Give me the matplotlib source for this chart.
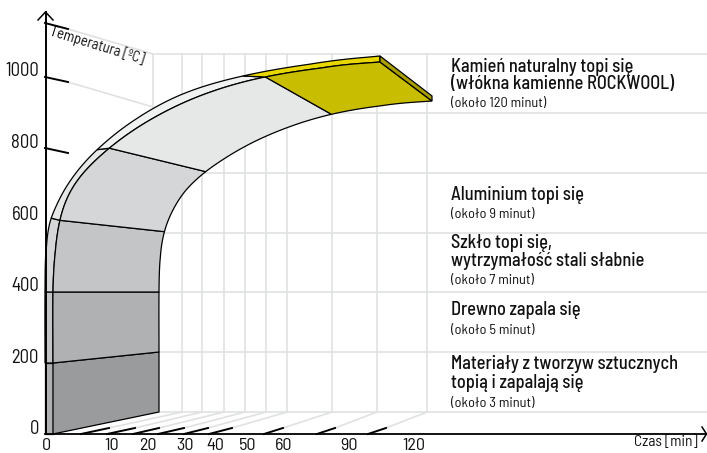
import numpy as np
import matplotlib
matplotlib.use("Agg")
import matplotlib.pyplot as plt
from matplotlib.patches import Polygon

plt.rcParams['font.family'] = ['Barlow Semi Condensed', 'Lato', 'DejaVu Sans']

# picture is read in pixels, the drawing is a perspective sketch
y_ticks = [0, 200, 400, 600, 800, 1000]
y_tick_px = [434, 363, 291.5, 220, 148, 77]
y_label_px = [429, 358, 286, 215, 143, 71]
x_labels = ['0', '10', '20', '30', '40', '50', '60', '90', '120']
x_label_px = [46, 112, 148, 185, 215, 248, 284, 349, 414]

tick_start = [81, 107, 133, 158, 184, 209, 264, 317, 368]
tick_end = [109, 135, 159, 184, 208, 232, 283, 335, 386]
foot_px = [182, 202, 224, 245, 266, 287, 332, 377, 427]
grid_y = [54, 113, 173, 233, 292, 352, 412]

outer = [(45, 434), (45, 363), (45, 292), (46, 238), (50, 220), (60, 197), (73, 175),
         (97, 148), (123, 128), (153, 107), (190, 90), (237, 76), (310, 63), (380, 56)]
inner = [(53, 434), (53, 363), (53, 292), (55, 250), (59, 220), (68, 193), (83, 172),
         (108, 148), (140, 125), (173, 107), (217, 88), (263, 77), (320, 67), (380, 62)]
back = [(159, 412), (159, 352), (159, 292), (160, 255), (163, 233), (173, 207), (187, 188),
        (203, 173), (233, 152), (280, 128), (333, 113), (380, 105), (432, 101)]
front_breaks = [0, 1, 2, 4, 7, 11, 13]
back_breaks = [0, 1, 2, 4, 7, 10, 12]

band_colors = ['#9a9b9c', '#b0b1b2', '#c4c5c6', '#d5d6d7', '#e6e7e7', '#c9bd00']
strip_colors = ['#b0b1b2', '#c4c5c6', '#d5d6d7', '#e6e7e7', '#f0f1f1', '#e8d800']

labels = [
    (['Kamień naturalny topi się', '(włókna kamienne ROCKWOOL)'], '(około 120 minut)', [72, 89], 107),
    (['Aluminium topi się'], '(około 9 minut)', [200], 218),
    (['Szkło topi się,', 'wytrzymałość stali słabnie'], '(około 7 minut)', [248, 266], 284),
    (['Drewno zapala się'], '(około 5 minut)', [315], 334),
    (['Materiały z tworzyw sztucznych', 'topią i zapalają się'], '(około 3 minut)', [369, 388], 407),
]

GRID = '#e0e1e1'
N = 10


def smooth(pts):
    # catmull-rom through the read points, N steps per span, then a running mean on the bent part
    p = np.array(pts, dtype=float)
    p = np.vstack([2 * p[0] - p[1], p, 2 * p[-1] - p[-2]])
    res = []
    for i in range(1, len(p) - 2):
        for t in np.linspace(0, 1, N, endpoint=False):
            res.append(0.5 * (2 * p[i] + (p[i + 1] - p[i - 1]) * t
                              + (2 * p[i - 1] - 5 * p[i] + 4 * p[i + 1] - p[i + 2]) * t ** 2
                              + (3 * p[i] - p[i - 1] - 3 * p[i + 1] + p[i + 2]) * t ** 3))
    res.append(p[-2])
    res = np.array(res)
    out = res.copy()
    for j in range(2 * N + 1, len(res) - 1):
        h = min(N, j - 2 * N, len(res) - 1 - j)
        out[j] = res[j - h:j + h + 1].mean(axis=0)
    return out


def part(curve, breaks, k):
    return curve[breaks[k] * N:breaks[k + 1] * N + 1]


fig = plt.figure(figsize=(7.07, 4.53), dpi=100)
ax = fig.add_axes([0, 0, 1, 1])
ax.set_xlim(0, 707)
ax.set_ylim(453, 0)
ax.axis('off')

# grid behind the surface
for y in grid_y:
    ax.plot([153, 707], [y, y], color=GRID, lw=1.2, zorder=1)
for x in foot_px:
    ax.plot([x, x], [54, 412], color=GRID, lw=1.2, zorder=1)
ax.plot([153, 153], [54, 107], color=GRID, lw=1.2, zorder=1)
ax.plot([68, 153], [29, 54], color=GRID, lw=1.2, zorder=1)
ax.plot([68, 153], [82, 107], color=GRID, lw=1.2, zorder=1)
for x0, x1 in zip(tick_end, foot_px):
    ax.plot([x0, x1], [428, 412], color=GRID, lw=1.2, zorder=1)

# surface
o = smooth(outer)
i_c = smooth(inner)
b = smooth(back)
for k in range(6):
    fo = part(o, front_breaks, k)
    fi = part(i_c, front_breaks, k)
    ba = part(b, back_breaks, k)
    ax.add_patch(Polygon(np.vstack([fo, fi[::-1]]), closed=True, fc=strip_colors[k], ec='black', lw=0.9, zorder=3))
    ax.add_patch(Polygon(np.vstack([fi, ba[::-1]]), closed=True, fc=band_colors[k], ec='black', lw=0.9, zorder=3))
ax.add_patch(Polygon([outer[-1], (432, 96), back[-1], inner[-1]], closed=True, fc='#a89e00', ec='black', lw=0.9, zorder=3))

# axes
ax.plot([45.5, 45.5], [12, 434], color='black', lw=1.4, zorder=5)
ax.plot([45, 707], [434, 434], color='black', lw=1.3, zorder=5)
ax.plot([38, 45.5, 53], [20, 12, 20], color='black', lw=1.1, zorder=5)
ax.plot([702, 706.5, 702], [427, 434, 441], color='black', lw=1.1, zorder=5)
ax.plot([45, 68], [23, 29], color='black', lw=1.4, zorder=5)
for y in y_tick_px[4:]:
    ax.plot([45, 68], [y, y + 5], color='black', lw=1.4, zorder=5)
for x0, x1 in zip(tick_start, tick_end):
    ax.plot([x0, x1], [434, 428], color='black', lw=1.4, zorder=5)

for v, y in zip(y_ticks, y_label_px):
    ax.text(39, y, str(v), ha='right', va='center', fontsize=13.5, color='#111111')
for s, x in zip(x_labels, x_label_px):
    ax.text(x, 449.5, s, ha='center', va='baseline', fontsize=13, color='#111111')

ax.text(50, 31, 'Temperatura [ºC]', rotation=-17, rotation_mode='anchor', ha='left', va='center',
        fontsize=10.5, color='#111111')
ax.text(634, 442, 'Czas [min]', ha='left', va='center', fontsize=11, color='#111111')

for lines, sub, ys, sub_y in labels:
    for s, y in zip(lines, ys):
        ax.text(451, y, s, ha='left', va='baseline', fontsize=13.2, fontweight=500, color='#111111')
    ax.text(451, sub_y, sub, ha='left', va='baseline', fontsize=10.3, color='#111111')

fig.savefig('out.png', dpi=100)
